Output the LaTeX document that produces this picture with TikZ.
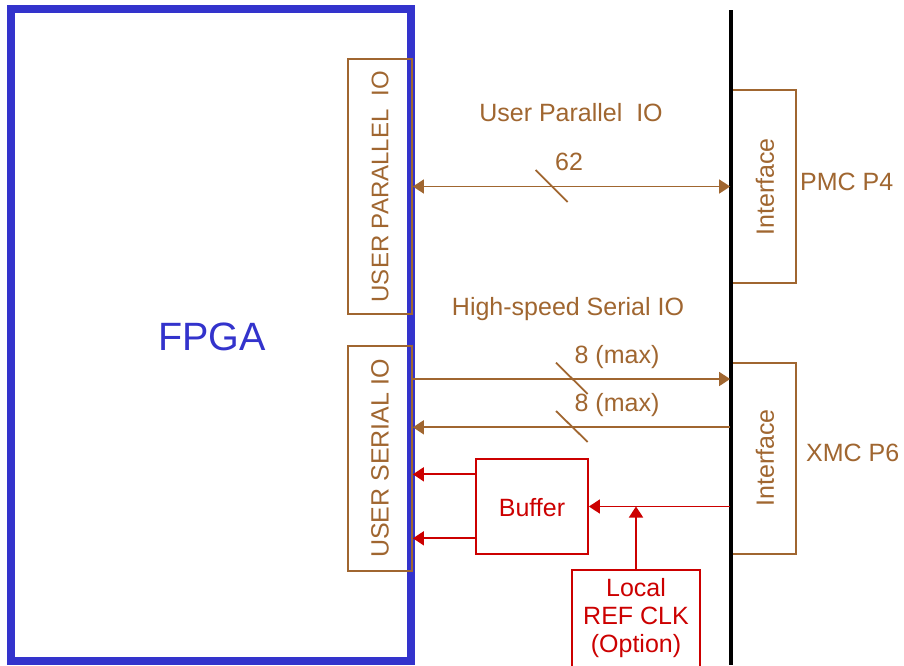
\documentclass[tikz,border=0pt]{standalone}
\usepackage{fontspec}
\setmainfont{Liberation Sans}
\usetikzlibrary{arrows.meta,calc}
\definecolor{brn}{RGB}{160,102,48}
\definecolor{fblue}{RGB}{51,51,204}
\definecolor{rd}{RGB}{204,0,0}
\begin{document}
\begin{tikzpicture}[x=1pt,y=-1pt,
  bbox/.style={draw=brn,line width=1.8pt,inner sep=0pt},
  rbox/.style={draw=rd,line width=1.8pt,inner sep=0pt},
  btxt/.style={text=brn,font=\fontsize{25}{29}\selectfont,inner sep=0pt},
  rtxt/.style={text=rd,font=\fontsize{25}{28}\selectfont,inner sep=0pt,align=center},
  barrow/.style={draw=brn,line width=1.8pt,-{Triangle[length=11pt,width=14pt]}},
  bdarrow/.style={draw=brn,line width=1.8pt,{Triangle[length=11pt,width=14pt]}-{Triangle[length=11pt,width=14pt]}},
  rarrow/.style={draw=rd,line width=1.8pt,-{Triangle[length=11pt,width=14pt]}},
  slash/.style={draw=brn,line width=1.8pt}]
\clip (0,0) rectangle (904,665);
\fill[white] (0,0) rectangle (904,665);
% FPGA
\node[draw=fblue,line width=8pt,minimum width=399.5,minimum height=652,inner sep=0pt] (fpga) at (210.75,335) {};
\node[text=fblue,font=\fontsize{39.5}{44}\selectfont,inner sep=0pt] (fpgat) at (212,337) {FPGA};
% IO boxes
\node[bbox,minimum width=64,minimum height=255] (upio) at (380,186.5) {};
\node[btxt,rotate=90,font=\fontsize{24}{28}\selectfont] (upiot) at (upio) {USER PARALLEL\ \ IO};
\node[bbox,minimum width=64,minimum height=225] (usio) at (380,458.5) {};
\node[btxt,rotate=90] (usiot) at (usio) {USER SERIAL IO};
% interfaces
\node[bbox,minimum width=65,minimum height=193] (pmc) at (763.5,186.5) {};
\node[btxt,rotate=90] (pmct) at (765,187) {Interface};
\node[btxt,anchor=west] (pmcl) at (800,182) {PMC P4};
\node[bbox,minimum width=65,minimum height=191] (xmc) at (763.5,458.5) {};
\node[btxt,rotate=90] (xmct) at (765,458) {Interface};
\node[btxt,anchor=west] (xmcl) at (806,453) {XMC P6};
% backplane line
\coordinate (bt) at (731,10);
\coordinate (bb) at (731,665);
\draw[line width=4pt] (bt) -- (bb);
% labels
\node[btxt] (upl) at (571,113) {User Parallel\ \ IO};
\node[btxt] (hsl) at (568,309) {High-speed Serial IO};
\node[btxt] (n62) at (569,162) {62};
\node[btxt] (m1) at (617,357) {8 (max)};
\node[btxt] (m2) at (617,405) {8 (max)};
% brown arrows
\draw[bdarrow] (upio.east) -- (pmc.west);
\draw[slash] (535.7,170) -- (567.7,202);
\draw[barrow] (usio.east |- 0,379) -- (xmc.west |- 0,379);
\draw[slash] (556,362.7) -- (587.7,394);
\draw[barrow] (xmc.west |- 0,427.3) -- (usio.east |- 0,427.3);
\draw[slash] (556,411) -- (587.7,442);
% red part
\node[rbox,minimum width=112,minimum height=95] (buf) at (532,506.5) {};
\node[rtxt] (buft) at (532,508) {Buffer};
\node[rbox,minimum width=128,minimum height=110] (loc) at (636,625) {};
\node[rtxt] (loct) at (636,618) {Local\\REF CLK\\(Option)};
\draw[rarrow] (buf.west |- 0,474.3) -- (usio.east |- 0,474.3);
\draw[rarrow] (buf.west |- 0,538.3) -- (usio.east |- 0,538.3);
\draw[rarrow] (xmc.west |- buf.east) -- (buf.east);
\draw[rarrow] (loc.north) -- (loc.north |- buf.east);
\end{tikzpicture}
\end{document}
